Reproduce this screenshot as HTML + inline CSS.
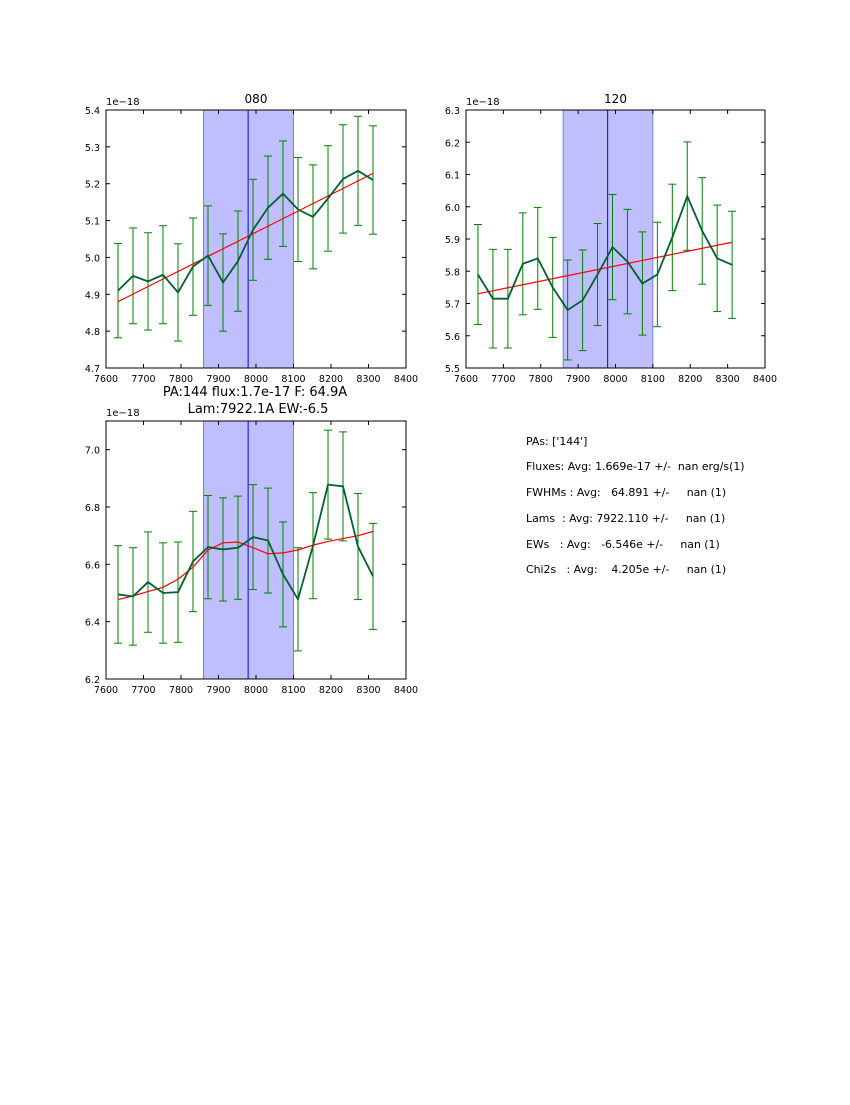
<!DOCTYPE html>
<html><head><meta charset="utf-8"><style>
body{margin:0;background:#fff;}
svg text{font-family:"DejaVu Sans","Liberation Sans",sans-serif;white-space:pre;}
</style></head><body>
<svg id="fig" width="850" height="1100" xmlns="http://www.w3.org/2000/svg">
<rect width="850" height="1100" fill="#fff"/>
<text x="255" y="396" font-size="13" text-anchor="middle">PA:144 flux:1.7e-17 F: 64.9A</text>
<text x="258" y="413" font-size="13" text-anchor="middle">Lam:7922.1A EW:-6.5</text>
<g font-size="10.9">
<text x="526" y="445">PAs: ['144']</text>
<text x="526" y="470">Fluxes: Avg: 1.669e-17 +/-  nan erg/s(1)</text>
<text x="526" y="496" xml:space="preserve">FWHMs : Avg:   64.891 +/-     nan (1)</text>
<text x="526" y="522" xml:space="preserve">Lams  : Avg: 7922.110 +/-     nan (1)</text>
<text x="526" y="548" xml:space="preserve">EWs   : Avg:   -6.546e +/-     nan (1)</text>
<text x="526" y="573" xml:space="preserve">Chi2s   : Avg:    4.205e +/-     nan (1)</text>
</g>
</svg>
<script>
const wavelengths=[7632,7672,7712,7752,7792,7832,7872,7912,7952,7992,8032,8072,8112,8152,8192,8232,8272,8312];
const flux080=[4.91,4.95,4.935,4.953,4.905,4.975,5.005,4.932,4.99,5.075,5.135,5.173,5.13,5.11,5.16,5.213,5.235,5.21];
const err080=[0.128,0.13,0.132,0.133,0.132,0.132,0.135,0.132,0.136,0.137,0.14,0.143,0.141,0.141,0.143,0.147,0.148,0.147];
const fit080=[4.88,5.228];
const flux120=[5.79,5.715,5.715,5.823,5.84,5.75,5.68,5.71,5.79,5.875,5.83,5.762,5.79,5.905,6.033,5.925,5.84,5.82];
const err120=[0.155,0.153,0.153,0.158,0.158,0.155,0.155,0.156,0.158,0.163,0.162,0.16,0.162,0.165,0.168,0.165,0.165,0.166];
const fit120=[5.73,5.89];
const flux144=[6.495,6.488,6.538,6.5,6.503,6.61,6.66,6.652,6.658,6.695,6.683,6.565,6.478,6.665,6.878,6.872,6.662,6.558];
const err144=[0.17,0.17,0.175,0.175,0.175,0.175,0.18,0.18,0.18,0.183,0.183,0.183,0.18,0.185,0.19,0.19,0.185,0.185];
const fit144=[6.477,6.49,6.505,6.52,6.548,6.59,6.65,6.675,6.678,6.658,6.637,6.64,6.65,6.667,6.68,6.69,6.70,6.715];
const xTicks=[7600,7700,7800,7900,8000,8100,8200,8300,8400];
const yTicks080=[4.7,4.8,4.9,5.0,5.1,5.2,5.3,5.4];
const yTicks120=[5.5,5.6,5.7,5.8,5.9,6.0,6.1,6.2,6.3];
const yTicks144=[6.2,6.4,6.6,6.8,7.0];
const band=[7860,8100];
const lineCenter=7979;

const NS="http://www.w3.org/2000/svg";
const svg=document.getElementById('fig');
function mk(tag,attrs,parent){const e=document.createElementNS(NS,tag);for(const k in attrs)e.setAttribute(k,attrs[k]);(parent||svg).appendChild(e);return e;}

function panel(name,L,T,W,H,ymin,ymax,yTicks,flux,err,fit,title){
  const g=mk('g',{});
  
  
  const xs=v=>L+(v-7600)/800*W;
  const ys=v=>T+H-(v-ymin)/(ymax-ymin)*H;
  const b=mk('rect',{x:xs(band[0]),y:T,width:xs(band[1])-xs(band[0]),height:H,fill:'#bfbfff',stroke:'#8080c0','stroke-width':1},g);
  
  
  const cl=mk('line',{x1:xs(lineCenter),x2:xs(lineCenter),y1:T,y2:T+H,stroke:'#0000ff','stroke-width':1},g);
  
  
  for(let i=0;i<wavelengths.length;i++){
    const x=xs(wavelengths[i]),y1=ys(flux[i]-err[i]),y2=ys(flux[i]+err[i]);
    const eg=mk('g',{stroke:'#008000','stroke-width':1},g);
    
    
    mk('line',{x1:x,x2:x,y1:y1,y2:y2},eg);
    mk('line',{x1:x-4,x2:x+4,y1:y1,y2:y1},eg);
    mk('line',{x1:x-4,x2:x+4,y1:y2,y2:y2},eg);
  }
  let fpts;
  if(fit.length===2){fpts=[[xs(wavelengths[0]),ys(fit[0])],[xs(wavelengths[wavelengths.length-1]),ys(fit[1])]];}
  else fpts=fit.map((v,i)=>[xs(wavelengths[i]),ys(v)]);
  const fl=mk('polyline',{points:fpts.map(p=>p.join(',')).join(' '),fill:'none',stroke:'#ff0000','stroke-width':1.2},g);
  
  
  const dl=mk('polyline',{points:flux.map((v,i)=>xs(wavelengths[i])+','+ys(v)).join(' '),fill:'none',stroke:'#006030','stroke-width':1.8},g);
  
  
  const fr=mk('rect',{x:L,y:T,width:W,height:H,fill:'none',stroke:'#000','stroke-width':1},g);
  
  
  xTicks.forEach(t=>{const x=xs(t);
    mk('line',{x1:x,x2:x,y1:T+H,y2:T+H-4,stroke:'#000'},g);
    mk('line',{x1:x,x2:x,y1:T,y2:T+4,stroke:'#000'},g);
    const tx=mk('text',{x:x,y:T+H+14,'font-size':9.5,'text-anchor':'middle'},g);tx.textContent=t;
    
    
  });
  yTicks.forEach(t=>{const y=ys(t);
    mk('line',{x1:L,x2:L+4,y1:y,y2:y,stroke:'#000'},g);
    mk('line',{x1:L+W,x2:L+W-4,y1:y,y2:y,stroke:'#000'},g);
    const tx=mk('text',{x:L-6,y:y+4,'font-size':9.5,'text-anchor':'end'},g);tx.textContent=t.toFixed(1);
    
    
  });
  const off=mk('text',{x:L,y:T-5,'font-size':10},g);off.textContent='1e\u221218';
  
  
  if(title){const tt=mk('text',{x:L+W/2,y:T-7,'font-size':12,'text-anchor':'middle'},g);tt.textContent=title;
    
    }
}
panel('pa080',106,110,300,258,4.7,5.4,yTicks080,flux080,err080,fit080,'080');
panel('pa120',466,110,299,258,5.5,6.3,yTicks120,flux120,err120,fit120,'120');
panel('pa144',106,421,300,258,6.2,7.1,yTicks144,flux144,err144,fit144,null);
</script>
</body></html>
